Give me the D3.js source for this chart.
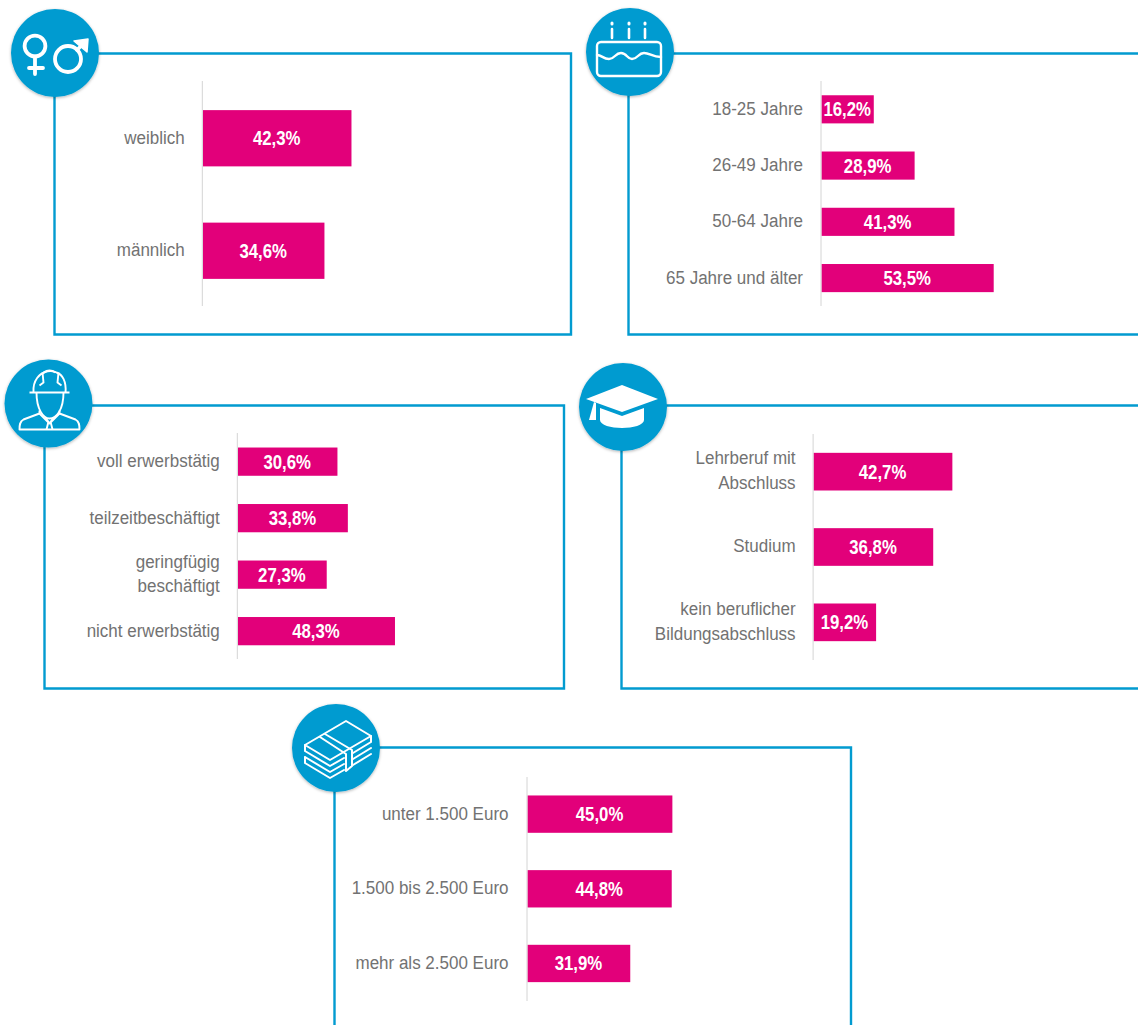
<!DOCTYPE html>
<html lang="de"><head><meta charset="utf-8">
<style>html,body{margin:0;padding:0;background:#fff;overflow:hidden}svg{display:block}</style>
<script src="https://cdn.jsdelivr.net/npm/d3@7"></script></head><body>
<svg id="c" width="1138" height="1025"></svg>
<script>
// --- data ---
const genderCategories = ["weiblich","männlich"];
const genderValues = [42.3,34.6];
const ageCategories = ["18-25 Jahre","26-49 Jahre","50-64 Jahre","65 Jahre und älter"];
const ageValues = [16.2,28.9,41.3,53.5];
const jobCategories = ["voll erwerbstätig","teilzeitbeschäftigt","geringfügig|beschäftigt","nicht erwerbstätig"];
const jobValues = [30.6,33.8,27.3,48.3];
const eduCategories = ["Lehrberuf mit|Abschluss","Studium","kein beruflicher|Bildungsabschluss"];
const eduValues = [42.7,36.8,19.2];
const incomeCategories = ["unter 1.500 Euro","1.500 bis 2.500 Euro","mehr als 2.500 Euro"];
const incomeValues = [45.0,44.8,31.9];

// --- layout ---
const BLUE="#029bd0", PINK="#e2007a", GREY="#727272", AXIS="#d4d4d4";
const panels=[
 {cats:genderCategories,vals:genderValues,frame:[54.5,53.5,571,334.5],circle:[55,53],x0:203,yr:[82,307],ax:[81,306],k:3.51,icon:"gender",ly:0,lp:17.5},
 {cats:ageCategories,vals:ageValues,frame:[628.5,53.5,1150,334.5],circle:[630,52],x0:821.7,yr:[81.2,306.2],ax:[81,306],k:3.215,icon:"cake",ly:0,lp:18},
 {cats:jobCategories,vals:jobValues,frame:[44.5,405.5,564,688.5],circle:[48.5,403.5],x0:238,yr:[433.4,659.4],ax:[433,659],k:3.25,icon:"worker",ly:0,lp:17.5},
 {cats:eduCategories,vals:eduValues,frame:[621.5,405.5,1150,688.5],circle:[623,407],x0:813.8,yr:[434,660],ax:[434,660],k:3.245,icon:"cap",ly:-0.5,lp:17.5},
 {cats:incomeCategories,vals:incomeValues,frame:[334.5,747.5,851,1040],circle:[336,748],x0:527.7,yr:[776.8,1000.8],ax:[777,1001],k:3.215,icon:"money",ly:0,lp:18.5}
];
const svg=d3.select("#c");
const defs=svg.append("defs");
const f=defs.append("filter").attr("id","sh").attr("x","-20%").attr("y","-20%").attr("width","140%").attr("height","140%");
f.append("feDropShadow").attr("dx",0).attr("dy",1).attr("stdDeviation",1.6).attr("flood-color","#000").attr("flood-opacity",.3);

const icons={
 gender(g){
  const s=g.append("g").attr("fill","none").attr("stroke","#fff").attr("stroke-width",3.8).attr("stroke-linecap","round").attr("stroke-linejoin","round");
  s.append("circle").attr("cx",-20).attr("cy",-7).attr("r",10.4);
  s.append("path").attr("d","M-20,3.5V21M-26,15H-12");
  s.append("circle").attr("cx",13).attr("cy",6).attr("r",13);
  s.append("path").attr("d","M22,-3L31,-12");
  g.append("path").attr("fill","#fff").attr("stroke","#fff").attr("stroke-width",1.5).attr("stroke-linejoin","round").attr("d","M19,-12L33,-14L32,-1Z");
 },
 cake(g){
  const s=g.append("g").attr("fill","none").attr("stroke","#fff").attr("stroke-width",2.4).attr("stroke-linecap","round");
  s.append("rect").attr("x",-33).attr("y",-10).attr("width",64).attr("height",34).attr("rx",4);
  s.append("path").attr("d","M-33,3C-28,3 -27,7 -21,7C-15,7 -15,1 -9,1C-3,1 -3,7 2,7C8,7 8,1 14,1C20,1 22,5 31,5");
  s.append("path").attr("stroke-width",2.6).attr("d","M-18,-23V-14M-1,-23V-14M15,-23V-14");
  s.append("path").attr("stroke-width",3).attr("d","M-18,-29V-28M-1,-29V-28M15,-29V-28");
 },
 worker(g){
  const s=g.append("g").attr("fill","none").attr("stroke","#fff").attr("stroke-width",1.9).attr("stroke-linejoin","round");
  s.append("path").attr("d","M-19,-11H21M-15,-11C-16,-24 -8,-30 -4,-31C0,-33 4,-33 8,-31C14,-29 18,-22 17,-11");
  s.append("path").attr("d","M-6,-31L-5,-21L-9,-18M10,-31L9,-21L13,-18M-5,-31Q1,-35 7,-31");
  s.append("path").attr("d","M-12,-11C-12,6 -5,15 1,15C8,15 15,6 15,-11");
  s.append("path").attr("d","M-9,7V10L-25,16C-29,18 -29,22 -29,26H31C31,22 31,18 27,16L11,10V7");
  s.append("path").attr("d","M-9,10L1,20L11,10M-3,14L1,20L5,14M-2,26L0,18M4,26L2,18");
 },
 cap(g){
  g.append("path").attr("fill","#fff").attr("d","M-37,-8L-1,-22L35,-8L-1,5Z");
  g.append("path").attr("fill","#fff").attr("d","M-23,1L-1,9L21,1V13C21,18 10,21 -1,21C-12,21 -23,18 -23,13Z");
  g.append("path").attr("fill","#fff").attr("d","M-29,-5L-27,-4V13H-34Z");
 },
 money(g){
  const s=g.append("g").attr("fill","none").attr("stroke","#fff").attr("stroke-width",2).attr("stroke-linecap","round").attr("stroke-linejoin","round");
  s.append("path").attr("d","M-31,-3L10,-27L35,-12L-6,12Z");
  s.append("path").attr("d","M-31,3L-6,18L8,10M-31,9L-6,24L8,16M-31,15L-6,30L8,22M-31,-3V3M-31,9V15");
  s.append("path").attr("d","M-11,-14L16,2V18L10,23V6L-16,-11");
  s.append("path").attr("d","M35,-6L17,5M35,0L17,11M35,6L17,17M35,-12V-6");
 }
};

const SX=0.895;
panels.forEach(p=>{
 const [l,t,r,b]=p.frame;
 const g=svg.append("g");
 g.append("path").attr("fill","none").attr("stroke",BLUE).attr("stroke-width",2.4)
  .attr("d",`M${l},${t}H${r}V${b}H${l}Z`);
 const cg=g.append("g").attr("transform",`translate(${p.circle})`);
 cg.append("circle").attr("r",44).attr("fill",BLUE).attr("filter","url(#sh)");
 icons[p.icon](cg);

 const y=d3.scaleBand().domain(p.cats).range(p.yr).padding(0.5).paddingOuter(0.25);
 const x=d3.scaleLinear().domain([0,100]).range([p.x0,p.x0+100*p.k]);

 const ax=g.append("g").attr("transform",`translate(${p.x0-0.7},0)`)
   .call(d3.axisLeft(y).tickSize(0).tickPadding(0));
 ax.select(".domain").attr("stroke",AXIS).attr("stroke-width",1).attr("d",`M0,${p.ax[0]}V${p.ax[1]}`);
 ax.selectAll(".tick text").each(function(d){
   const el=d3.select(this), lines=d.split("|");
   el.text(null).attr("x",0).attr("dy",null)
     .attr("transform",`translate(${-p.lp},0) scale(${SX},1)`)
     .attr("font-family","'Liberation Sans',Arial,sans-serif").attr("font-size",19).attr("fill",GREY).attr("text-anchor","end");
   lines.forEach((s,i)=>el.append("tspan").attr("x",0)
     .attr("y",(i-(lines.length-1)/2)*24.5+5.5+p.ly).text(s));
 });

 const rows=p.cats.map((c,i)=>({c,v:p.vals[i]}));
 g.selectAll("rect.bar").data(rows).join("rect").attr("class","bar")
  .attr("x",x(0)).attr("y",d=>y(d.c)).attr("width",d=>x(d.v)-x(0)).attr("height",y.bandwidth()).attr("fill",PINK);
 g.selectAll("text.val").data(rows).join("text").attr("class","val")
  .attr("transform",d=>`translate(${(x(0)+x(d.v))/2-0.5},${y(d.c)+y.bandwidth()/2+7}) scale(.84,1)`)
  .attr("text-anchor","middle").attr("font-family","'Liberation Sans',Arial,sans-serif")
  .attr("font-weight","bold").attr("font-size",20).attr("fill","#fff")
  .text(d=>d.v.toFixed(1).replace(".",",")+"%");
});
</script></body></html>
